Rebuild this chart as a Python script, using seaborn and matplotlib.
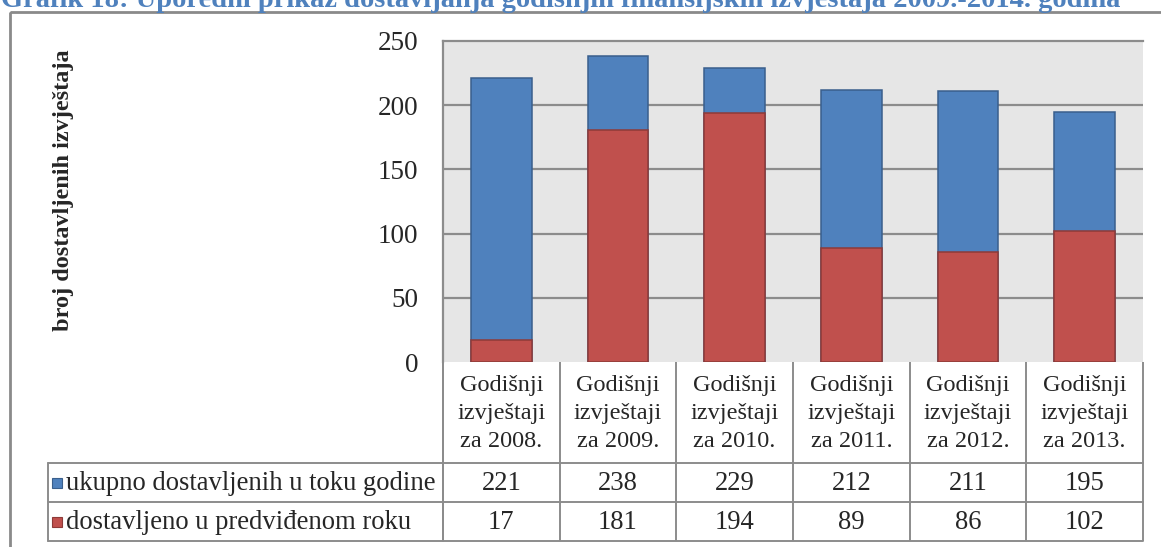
import matplotlib
matplotlib.use("Agg")
import matplotlib.pyplot as plt
import seaborn as sns
import pandas as pd
from matplotlib.transforms import blended_transform_factory
from matplotlib.patches import Rectangle

# ---- data ----
categories = ["Godišnji\nizvještaji\nza 2008.", "Godišnji\nizvještaji\nza 2009.",
              "Godišnji\nizvještaji\nza 2010.", "Godišnji\nizvještaji\nza 2011.",
              "Godišnji\nizvještaji\nza 2012.", "Godišnji\nizvještaji\nza 2013."]
total_submitted = [221, 238, 229, 212, 211, 195]
on_time = [17, 181, 194, 89, 86, 102]
series_names = ["ukupno dostavljenih u toku godine", "dostavljeno u predviđenom roku"]
y_ticks = [0, 50, 100, 150, 200, 250]
y_label = "broj dostavljenih izvještaja"
title = "Grafik 18: Uporedni prikaz dostavljanja godišnjih finansijskih izvještaja 2009.-2014. godina"

BLUE, BLUE_EDGE = "#4F81BD", "#3A5F8C"
RED, RED_EDGE = "#C0504D", "#8E3A38"
GRID = "#8C8C8C"
BG = "#E6E6E6"
SERIF = ["Liberation Serif", "DejaVu Serif"]

sns.set_theme(style="white")
plt.rcParams["font.family"] = SERIF

W, H = 1161, 547
fig = plt.figure(figsize=(W / 100, H / 100), dpi=100)

# overlay in pixel coordinates (for frame / table)
ov = fig.add_axes([0, 0, 1, 1], zorder=0)
ov.set_xlim(0, W)
ov.set_ylim(H, 0)
ov.axis("off")

# plot area
L, R, T, B = 443, 1143, 41, 362
ax = fig.add_axes([L / W, 1 - B / H, (R - L) / W, (B - T) / H], zorder=2)
ax.set_facecolor(BG)

df = pd.DataFrame({"cat": categories, "total": total_submitted, "ontime": on_time})
sns.barplot(data=df, x="cat", y="total", color=BLUE, saturation=1, width=0.52,
            edgecolor=BLUE_EDGE, linewidth=1.1, ax=ax, zorder=3)
sns.barplot(data=df, x="cat", y="ontime", color=RED, saturation=1, width=0.52,
            edgecolor=RED_EDGE, linewidth=1.1, ax=ax, zorder=4)

ax.set_ylim(0, 250)
ax.set_xlim(-0.5, len(categories) - 0.5)
ax.set_yticks(y_ticks)
ax.set_yticklabels([str(v) for v in y_ticks], fontsize=19.5)
ax.tick_params(axis="y", length=0, pad=18)
ax.set_xticks([])
ax.set_xlabel("")
ax.set_ylabel("")
for v in y_ticks[1:-1]:
    ax.axhline(v, color=GRID, lw=1.6, zorder=1)
for side in ["right", "bottom"]:
    ax.spines[side].set_visible(False)
for side in ["left", "top"]:
    ax.spines[side].set_color(GRID)
    ax.spines[side].set_linewidth(1.6)

# y label
fig.text(64 / W, 1 - 190 / H, y_label, rotation=90, ha="center", va="center",
         fontsize=17.5, fontweight="bold", family=SERIF)

# title (partly clipped at top)
fig.text(1 / W, 1 - 7 / H, title, ha="left", va="baseline", fontsize=20.5,
         fontweight="bold", color="#4F81BD", family=SERIF)

# outer border
ov.add_patch(Rectangle((10, 12), 1200, 600, fill=False, ec="#8A8A8A", lw=2.0, zorder=1))

# ---- data table ----
tr = blended_transform_factory(ax.transData, ov.transData)
n = len(categories)
hdr_top, hdr_bot, row1_bot, row2_bot = 362, 463, 502, 541
leg_left = 48
lc = GRID
lw = 1.4
for k in range(n + 1):
    ov.plot([k - 0.5, k - 0.5], [hdr_top, row2_bot], transform=tr, color=lc, lw=lw,
            solid_capstyle="butt", zorder=2)
ov.plot([L, L], [hdr_top, row2_bot], color=lc, lw=lw, zorder=2)
for yy in [hdr_bot, row1_bot, row2_bot]:
    ov.plot([leg_left, R], [yy, yy], color=lc, lw=lw, zorder=2)
ov.plot([leg_left, leg_left], [hdr_bot, row2_bot], color=lc, lw=lw, zorder=2)

# header texts
for k, c in enumerate(categories):
    ov.text(k, (hdr_top + hdr_bot) / 2 + 1, c, transform=tr, ha="center", va="center",
            fontsize=17.5, linespacing=1.45, zorder=3)

# rows
rows = [(series_names[0], total_submitted, BLUE, BLUE_EDGE, hdr_bot, row1_bot),
        (series_names[1], on_time, RED, RED_EDGE, row1_bot, row2_bot)]
for name, vals, col, ecol, y0, y1 in rows:
    yc = (y0 + y1) / 2
    ov.add_patch(Rectangle((52, yc - 5), 10, 10, fc=col, ec=ecol, lw=0.8, zorder=3))
    ov.text(66, yc + 1, name, ha="left", va="center", fontsize=19.2, zorder=3)
    for k, v in enumerate(vals):
        ov.text(k, yc + 1, str(v), transform=tr, ha="center", va="center",
                fontsize=19.2, zorder=3)

fig.savefig("out.png", dpi=100)
